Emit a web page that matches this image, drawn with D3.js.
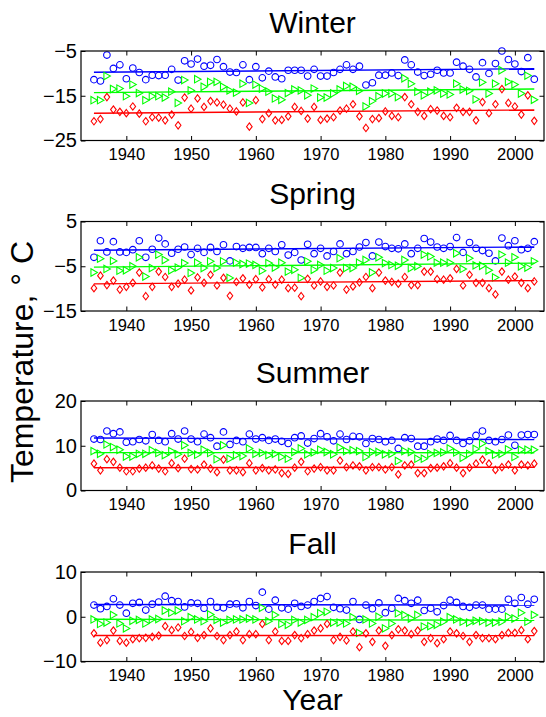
<!DOCTYPE html>
<html>
<head>
<meta charset="utf-8">
<script src="https://cdn.jsdelivr.net/npm/d3@7"></script>
<style>
  html, body { margin: 0; padding: 0; background: #fff; }
  svg text { font-family: "Liberation Sans", Arial, Helvetica, sans-serif; fill: #000; }
</style>
</head>
<body>
<div id="chart"></div>
<script>
// Years on the x axis (one point per year)
const years = d3.range(1935, 2004);
const xTicks = [1940, 1950, 1960, 1970, 1980, 1990, 2000];

// Winter
const winterUpper = [-11.4,-11.7,-5.9,-8.9,-8.1,-11.2,-8.8,-9.8,-11.4,-10.4,
  -10.5,-10.4,-9.1,-11.5,-7.2,-7.9,-6.8,-8.4,-8.2,-6.9,
  -8.5,-9.7,-9.8,-8.1,-11.4,-8.5,-11.0,-9.5,-10.8,-11.2,
  -9.3,-9.3,-9.3,-10.6,-9.1,-10.6,-10.6,-9.8,-9.1,-8.1,
  -9.1,-8.4,-12.6,-12.1,-10.4,-10.4,-9.9,-10.5,-7.0,-8.1,
  -9.7,-10.5,-10.2,-9.3,-9.9,-9.9,-7.5,-8.4,-9.1,-10.8,
  -7.6,-10.0,-7.8,-5.0,-6.9,-7.9,-9.6,-6.5,-11.3];
const winterMiddle = [-16.0,-16.0,-10.6,-13.5,-13.4,-15.1,-12.5,-14.4,-16.0,-15.1,
  -15.1,-15.4,-14.1,-16.6,-11.5,-13.8,-11.3,-13.0,-11.9,-11.9,
  -13.0,-13.8,-14.3,-12.3,-16.6,-12.5,-13.4,-14.1,-15.6,-15.9,
  -14.4,-13.6,-13.8,-14.9,-13.4,-15.4,-15.4,-14.5,-13.6,-12.8,
  -13.0,-13.9,-17.4,-16.2,-15.1,-14.5,-14.5,-15.3,-11.1,-12.3,
  -14.1,-14.9,-14.1,-13.8,-14.5,-14.7,-12.3,-13.6,-13.9,-15.8,
  -12.0,-14.5,-12.3,-9.3,-11.9,-12.5,-14.5,-10.5,-15.9];
const winterLower = [-20.7,-20.2,-15.3,-18.1,-18.6,-18.9,-17.4,-19.0,-20.7,-19.8,
  -19.9,-20.5,-19.2,-21.6,-15.4,-17.9,-15.6,-17.5,-16.2,-16.5,
  -17.0,-17.9,-18.5,-16.5,-21.9,-16.0,-20.2,-18.9,-20.5,-20.4,
  -19.6,-17.5,-18.4,-20.1,-17.5,-20.4,-20.1,-19.8,-18.3,-17.9,
  -16.9,-19.6,-22.2,-20.2,-20.0,-18.5,-19.5,-19.8,-15.3,-16.9,
  -18.6,-19.5,-18.0,-18.3,-19.5,-19.8,-17.7,-18.6,-18.6,-20.5,
  -16.4,-18.9,-16.9,-13.5,-16.6,-17.4,-19.2,-14.9,-20.6];

// Spring
const springUpper = [-3.0,0.7,-1.8,0.5,-1.8,-1.9,-1.3,0.7,-3.0,-1.2,
  1.3,0.0,-2.1,-1.2,-0.7,-2.4,-1.0,-1.9,-0.8,-1.7,
  -0.2,-3.8,-0.6,-1.0,-0.8,-0.8,-2.2,-1.0,-1.7,-0.2,
  -2.5,-1.9,-3.6,-0.1,-2.2,-1.0,-2.7,-1.7,0.0,-2.2,
  -1.7,-0.7,0.3,-2.7,0.4,-0.6,-1.0,-1.1,0.0,-2.2,
  -1.0,1.2,0.4,-0.7,-1.0,-0.6,1.4,-1.9,0.3,-1.0,
  -1.5,-2.1,-3.8,1.3,-0.4,0.7,-1.3,-1.0,0.5];
const springMiddle = [-6.4,-3.3,-5.6,-3.8,-6.0,-5.9,-5.0,-3.0,-7.3,-5.4,
  -2.4,-3.6,-5.9,-5.3,-4.3,-6.5,-4.2,-5.4,-3.9,-5.4,
  -3.9,-7.6,-4.2,-4.5,-4.4,-4.7,-6.0,-4.3,-5.3,-4.2,
  -6.2,-5.8,-7.6,-3.9,-5.8,-4.7,-6.0,-5.4,-3.2,-5.4,
  -5.4,-4.2,-3.6,-6.4,-3.0,-4.3,-4.7,-4.9,-3.6,-5.4,
  -5.0,-2.4,-2.8,-4.2,-4.2,-4.2,-2.1,-5.6,-3.2,-4.8,
  -4.9,-5.9,-7.5,-2.4,-4.2,-3.0,-5.0,-5.3,-3.9];
const springLower = [-9.9,-7.1,-9.2,-8.2,-10.2,-9.6,-8.7,-6.4,-11.7,-9.6,
  -6.2,-7.4,-9.6,-8.9,-8.0,-10.4,-7.5,-8.7,-6.9,-9.3,
  -7.6,-11.6,-8.5,-7.7,-9.1,-7.9,-9.7,-7.9,-9.1,-8.0,
  -9.9,-9.8,-11.7,-7.8,-9.3,-8.4,-9.6,-9.3,-6.4,-10.2,
  -9.5,-8.6,-7.4,-9.9,-6.4,-8.2,-8.5,-8.9,-7.4,-9.2,
  -9.2,-6.2,-6.2,-7.9,-8.0,-7.7,-5.6,-9.3,-6.9,-8.7,
  -8.7,-9.9,-11.3,-6.2,-8.0,-7.3,-8.7,-9.9,-8.4];

// Summer
const summerUpper = [11.5,11.4,13.3,12.7,13.1,10.8,10.9,11.4,11.1,12.5,
  11.2,10.9,12.7,11.5,13.3,11.5,10.9,12.6,11.8,9.9,
  13.1,10.3,11.2,10.9,12.6,11.5,11.8,11.2,11.5,11.0,
  10.5,11.8,12.2,10.6,11.6,12.7,12.0,11.1,12.6,11.4,
  12.1,12.0,10.5,11.6,11.4,10.9,11.2,9.4,11.8,11.6,
  9.9,9.9,10.9,11.5,11.2,12.3,11.2,10.5,11.1,12.3,
  13.3,11.2,10.9,11.4,12.4,10.1,12.4,12.5,12.5];
const summerMiddle = [8.8,8.2,10.3,9.7,9.1,7.6,7.6,8.2,8.2,9.0,
  8.4,7.9,8.8,8.1,10.1,8.4,8.0,9.1,8.4,7.0,
  10.1,7.1,7.9,7.7,9.4,8.2,8.4,7.9,8.2,7.5,
  7.1,8.6,9.4,8.1,8.5,9.1,8.6,8.1,9.6,8.8,
  9.0,8.8,7.5,8.6,8.6,8.1,8.2,6.6,8.8,8.6,
  7.1,7.1,8.2,8.4,8.5,9.4,8.5,7.3,8.2,9.3,
  10.5,8.8,8.0,8.2,9.2,7.5,9.1,9.1,9.1];
const summerLower = [6.0,4.5,7.0,6.4,5.1,4.3,4.3,4.9,5.1,5.6,
  4.9,4.3,6.1,5.0,7.1,4.8,4.7,5.8,4.9,4.1,
  6.9,4.5,4.5,4.1,6.1,4.5,5.0,4.5,4.7,3.9,
  3.7,5.1,6.4,4.3,4.9,5.2,4.5,4.5,6.7,5.2,
  5.6,5.4,4.5,5.2,5.2,4.7,5.2,3.6,5.6,5.8,
  3.9,3.9,5.0,5.1,5.4,6.1,5.1,3.9,5.1,6.0,
  6.9,6.0,4.6,5.2,5.8,4.5,5.8,5.6,6.0];

// Fall
const fallUpper = [2.6,1.8,2.3,4.0,2.6,0.8,3.0,3.2,1.5,2.8,
  3.3,4.6,3.6,3.4,2.2,3.1,3.0,1.9,3.4,2.1,
  2.0,2.8,2.9,2.0,3.4,2.5,5.5,1.7,3.7,2.0,
  1.7,3.0,2.3,2.6,3.4,4.1,4.5,2.1,1.8,1.5,
  3.4,-0.6,2.6,1.8,3.1,0.9,1.9,4.1,3.6,3.0,
  3.7,1.4,1.9,1.1,2.5,3.7,3.2,2.3,2.1,2.6,
  2.6,1.7,1.7,1.7,3.9,3.0,4.3,2.8,3.9];
const fallMiddle = [-0.6,-1.6,-1.3,0.4,-1.5,-2.6,-0.9,-0.7,-1.5,-0.6,
  -0.5,1.4,0.9,1.4,-1.0,-0.1,-0.6,-1.0,0.5,-0.7,
  -1.3,-0.7,-0.6,-0.6,-0.4,-0.6,2.0,-1.0,0.4,-1.6,
  -1.8,-0.7,-1.3,-0.7,-0.1,0.8,1.1,-1.3,-1.3,-1.5,
  -0.1,-3.6,-0.6,-1.5,0.0,-2.6,-1.5,0.8,0.4,-0.4,
  0.4,-2.2,-2.1,-1.8,-1.1,-0.1,-0.6,-1.1,-1.3,-0.9,
  -1.0,-1.3,-1.3,-1.1,0.0,-0.4,0.9,-1.1,0.4];
const fallLower = [-3.7,-5.8,-5.2,-3.1,-5.4,-5.8,-5.0,-4.8,-4.7,-4.5,
  -4.2,-2.1,-3.0,-2.4,-4.3,-3.4,-4.7,-4.1,-2.6,-4.3,
  -5.2,-4.1,-3.3,-5.2,-3.9,-3.9,-1.6,-5.2,-3.3,-5.4,
  -5.4,-4.1,-4.8,-3.9,-3.1,-2.6,-1.6,-5.2,-4.5,-5.3,
  -3.3,-6.8,-3.7,-5.6,-3.1,-6.5,-4.1,-2.8,-3.1,-3.9,
  -3.1,-5.6,-4.8,-5.9,-5.0,-3.3,-3.7,-4.3,-5.6,-4.1,
  -4.8,-4.8,-5.0,-4.1,-3.6,-3.6,-3.0,-5.0,-3.2];

// Panel titles, y ranges and y tick labels
const titles = ['Winter', 'Spring', 'Summer', 'Fall'];
const yDomains = [[-25, -5], [-15, 5], [0, 20], [-10, 10]];
const yTicks = [[-25, -15, -5], [-15, -5, 5], [0, 10, 20], [-10, 0, 10]];
const seriesByPanel = [
  [winterUpper, winterMiddle, winterLower],
  [springUpper, springMiddle, springLower],
  [summerUpper, summerMiddle, summerLower],
  [fallUpper, fallMiddle, fallLower],
];

// Marker styles: blue circles, green right triangles, red diamonds
const markerColors = ['#0000ff', '#00ff00', '#ff0000'];
const markerPaths = [
  'M3.3,0A3.3,3.3 0 1,1 -3.3,0A3.3,3.3 0 1,1 3.3,0Z',
  'M-3,-3.7L3.5,0L-3,3.7Z',
  'M0,-3.7L2.8,0L0,3.7L-2.8,0Z',
];

const width = 546;
const height = 717;
const left = 81;
const right = 544;
const panelTops = [51, 221.5, 401, 572];
const panelHeight = 89.5;
const tickLen = 4.5;

const svg = d3.select('#chart')
  .append('svg')
  .attr('width', width)
  .attr('height', height);

const x = d3.scaleLinear().domain([1933, 2004.5]).range([left, right]);

// Least squares fit for the trend lines
function fitLine(xs, ys) {
  const mx = d3.mean(xs);
  const my = d3.mean(ys);
  let sxy = 0, sxx = 0;
  xs.forEach((v, i) => {
    sxy += (v - mx) * (ys[i] - my);
    sxx += (v - mx) * (v - mx);
  });
  const slope = sxy / sxx;
  return v => my + slope * (v - mx);
}

titles.forEach((title, p) => {
  const top = panelTops[p];
  const bottom = top + panelHeight;
  const y = d3.scaleLinear().domain(yDomains[p]).range([bottom, top]);
  const g = svg.append('g').attr('class', 'panel');

  // Title
  g.append('text')
    .attr('x', (left + right) / 2)
    .attr('y', top - 18)
    .attr('text-anchor', 'middle')
    .style('font-size', '30px')
    .text(title);

  // Data: trend lines then markers
  seriesByPanel[p].forEach((values, s) => {
    const fit = fitLine(years, values);
    const ends = [years[0], years[years.length - 1]];
    g.append('path')
      .datum(ends)
      .attr('fill', 'none')
      .attr('stroke', markerColors[s])
      .attr('stroke-width', 1.4)
      .attr('d', d3.line().x(d => x(d)).y(d => y(fit(d))));

    g.selectAll(null)
      .data(values)
      .enter()
      .append('path')
      .attr('transform', (d, i) => `translate(${x(years[i])},${y(d)})`)
      .attr('d', markerPaths[s])
      .attr('fill', 'none')
      .attr('stroke', markerColors[s])
      .attr('stroke-width', 1.1);
  });

  // Box
  g.append('rect')
    .attr('x', left)
    .attr('y', top)
    .attr('width', right - left)
    .attr('height', panelHeight)
    .attr('fill', 'none')
    .attr('stroke', '#000')
    .attr('stroke-width', 1.2);

  // Inward ticks on all four sides
  const xAxisBottom = d3.axisBottom(x).tickValues(xTicks).tickSize(-tickLen).tickPadding(8).tickFormat(d3.format('d'));
  const xAxisTop = d3.axisTop(x).tickValues(xTicks).tickSize(-tickLen).tickFormat('');
  const yAxisLeft = d3.axisLeft(y).tickValues(yTicks[p]).tickSize(-tickLen).tickPadding(4)
    .tickFormat(d => d < 0 ? '\u2212' + Math.abs(d) : d);
  const yAxisRight = d3.axisRight(y).tickValues(yTicks[p]).tickSize(-tickLen).tickFormat('');

  const xb = g.append('g').attr('transform', `translate(0,${bottom})`).call(xAxisBottom);
  const xt = g.append('g').attr('transform', `translate(0,${top})`).call(xAxisTop);
  const yl = g.append('g').attr('transform', `translate(${left},0)`).call(yAxisLeft);
  const yr = g.append('g').attr('transform', `translate(${right},0)`).call(yAxisRight);
  [xb, xt, yl, yr].forEach(a => {
    a.select('.domain').remove();
    a.selectAll('line').attr('stroke', '#000');
    a.selectAll('text').attr('fill', '#000');
  });
  xb.selectAll('text').style('font-size', '16.5px');
  yl.selectAll('text').style('font-size', '20px');
});

// Axis labels
svg.append('text')
  .attr('x', (left + right) / 2)
  .attr('y', 710)
  .attr('text-anchor', 'middle')
  .style('font-size', '30px')
  .text('Year');

svg.append('text')
  .attr('transform', 'translate(33,362) rotate(-90)')
  .attr('text-anchor', 'middle')
  .style('font-size', '32px')
  .text('Temperature, \u00b0 C');
</script>
</body>
</html>
